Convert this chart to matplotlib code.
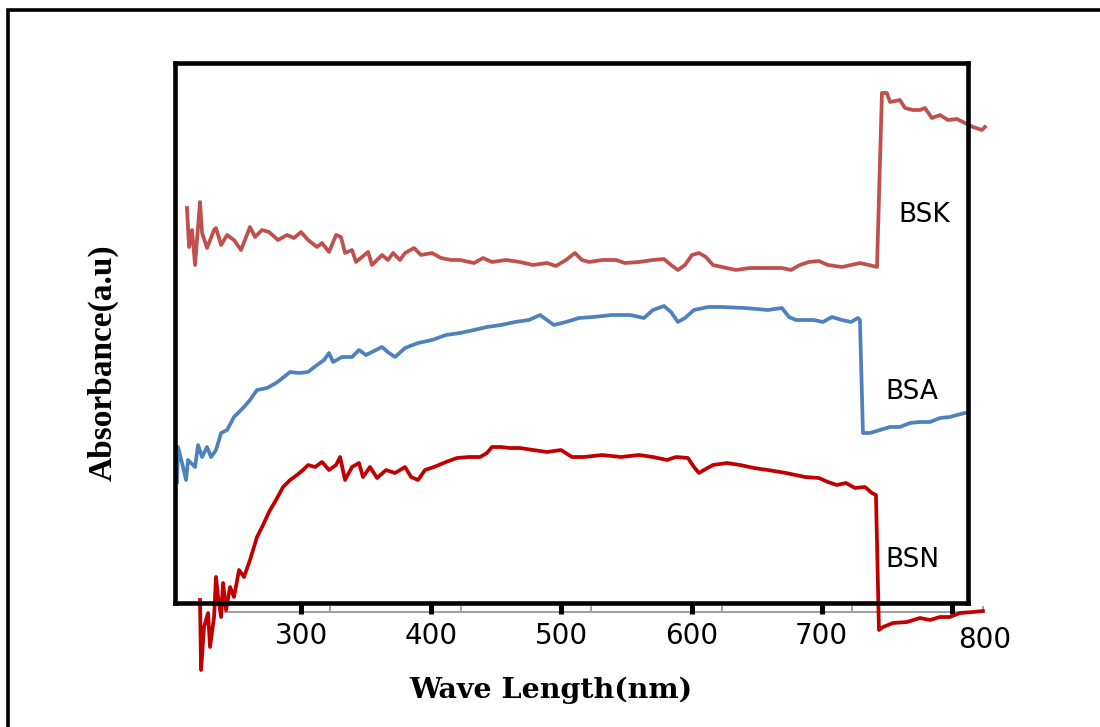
import matplotlib
matplotlib.use("Agg")
import matplotlib.pyplot as plt
from matplotlib.patches import Rectangle

# ---------------- data ----------------
bsk_wl = [212.4, 214.0, 216.3, 218.6, 222.4, 224.0, 227.8, 233.2, 234.7, 238.6,
          243.2, 248.5, 253.9, 257.8, 260.8, 264.7, 270.0, 275.4, 282.3, 289.2,
          294.6, 300.0, 305.4, 312.3, 316.1, 321.5, 326.9, 330.7, 333.8, 339.2,
          342.2, 351.5, 354.5, 362.2, 366.8, 370.7, 376.0, 379.9, 386.8, 392.2,
          400.6, 407.5, 415.2, 422.1, 432.9, 439.8, 446.7, 457.4, 468.2, 478.2,
          488.9, 495.8, 503.5, 510.4, 515.8, 521.2, 531.2, 541.9, 548.8, 559.6,
          570.3, 578.8, 584.2, 589.5, 594.9, 600.3, 605.7, 611.0, 616.4, 623.3,
          634.1, 644.8, 658.7, 669.4, 676.3, 683.2, 690.1, 697.8, 704.7, 715.5,
          722.4, 729.3, 736.2, 742.4, 746.2, 750.0, 752.4, 760.0, 763.9, 770.0,
          775.4, 779.2, 784.6, 790.8, 796.9, 803.8, 810.0, 816.1, 823.0, 825.3]
bsk_abs = [3.95, 3.56, 3.73, 3.38, 4.01, 3.70, 3.55, 3.73, 3.75, 3.58,
           3.68, 3.63, 3.53, 3.66, 3.76, 3.66, 3.73, 3.71, 3.63, 3.68,
           3.65, 3.71, 3.63, 3.56, 3.60, 3.51, 3.68, 3.66, 3.50, 3.53,
           3.41, 3.51, 3.38, 3.48, 3.43, 3.50, 3.43, 3.50, 3.55, 3.48,
           3.50, 3.45, 3.43, 3.43, 3.40, 3.45, 3.41, 3.43, 3.41, 3.38,
           3.40, 3.37, 3.43, 3.50, 3.43, 3.41, 3.43, 3.43, 3.40, 3.41,
           3.43, 3.44, 3.38, 3.33, 3.38, 3.48, 3.50, 3.46, 3.38, 3.36,
           3.33, 3.35, 3.35, 3.35, 3.33, 3.38, 3.41, 3.42, 3.38, 3.36,
           3.38, 3.40, 3.38, 3.36, 5.10, 5.10, 5.01, 5.03, 4.95, 4.93,
           4.93, 4.95, 4.85, 4.88, 4.83, 4.84, 4.80, 4.76, 4.73, 4.76]

bsa_wl = [204.8, 205.5, 208.6, 211.7, 213.2, 218.6, 220.9, 224.0, 227.8, 230.9,
          234.7, 238.6, 243.2, 248.5, 256.2, 260.8, 266.2, 273.9, 280.8, 283.9,
          291.6, 298.5, 305.4, 312.3, 317.7, 321.5, 324.6, 331.5, 339.2, 344.5,
          349.9, 354.5, 362.2, 367.6, 372.2, 379.9, 389.9, 400.6, 411.4, 422.1,
          432.9, 442.8, 453.6, 464.4, 475.1, 483.6, 488.9, 494.3, 503.5, 513.5,
          524.3, 538.8, 552.7, 563.4, 570.3, 578.8, 584.2, 589.5, 594.9, 601.8,
          612.6, 623.3, 641.0, 658.7, 669.4, 674.8, 680.2, 694.0, 700.9, 707.8,
          715.5, 722.4, 727.8, 729.3, 731.6, 737.0, 744.7, 752.4, 760.0, 767.7,
          775.4, 783.1, 790.8, 798.4, 803.8, 810.0]
bsa_abs = [1.21, 1.56, 1.40, 1.23, 1.43, 1.36, 1.58, 1.46, 1.56, 1.46,
           1.53, 1.70, 1.73, 1.86, 1.96, 2.03, 2.13, 2.15, 2.20, 2.23,
           2.31, 2.30, 2.31, 2.38, 2.43, 2.50, 2.41, 2.46, 2.46, 2.53,
           2.48, 2.51, 2.56, 2.50, 2.46, 2.55, 2.60, 2.63, 2.68, 2.70,
           2.73, 2.76, 2.78, 2.81, 2.83, 2.88, 2.83, 2.78, 2.81, 2.85,
           2.86, 2.88, 2.88, 2.85, 2.93, 2.97, 2.91, 2.81, 2.85, 2.93,
           2.96, 2.96, 2.95, 2.93, 2.95, 2.86, 2.83, 2.83, 2.81, 2.86,
           2.83, 2.81, 2.85, 2.83, 1.70, 1.70, 1.73, 1.76, 1.76, 1.80,
           1.81, 1.81, 1.85, 1.86, 1.88, 1.90]

bsn_wl = [222.4, 223.2, 225.5, 228.6, 230.1, 233.2, 234.7, 236.3, 238.6, 240.1,
          242.4, 245.5, 248.5, 252.4, 256.2, 260.8, 266.2, 271.6, 275.4, 280.8,
          286.2, 291.6, 296.9, 301.5, 305.4, 310.8, 316.1, 321.5, 326.9, 330.0,
          333.8, 339.2, 344.5, 347.6, 353.0, 358.4, 365.3, 372.2, 379.9, 384.5,
          389.9, 395.2, 402.1, 411.4, 419.8, 429.0, 437.5, 442.8, 446.7, 453.6,
          460.5, 468.2, 478.2, 488.9, 499.7, 508.1, 517.3, 531.2, 545.8, 559.6,
          570.3, 581.1, 588.0, 597.2, 601.8, 605.7, 609.5, 616.4, 627.2, 637.2,
          647.9, 658.7, 672.5, 687.1, 697.8, 704.7, 711.6, 718.6, 725.5, 733.2,
          738.5, 741.6, 743.9, 747.0, 754.7, 765.4, 775.4, 783.1, 790.8, 798.4,
          806.1, 816.1, 823.8]
bsn_abs = [0.03, -0.67, -0.24, -0.10, -0.44, -0.14, 0.26, 0.06, -0.14, 0.20,
           -0.07, 0.16, 0.06, 0.33, 0.26, 0.43, 0.66, 0.80, 0.91, 1.03,
           1.16, 1.23, 1.28, 1.33, 1.38, 1.36, 1.41, 1.33, 1.38, 1.46,
           1.23, 1.36, 1.40, 1.26, 1.36, 1.25, 1.33, 1.30, 1.36, 1.26,
           1.23, 1.33, 1.36, 1.41, 1.45, 1.46, 1.46, 1.50, 1.56, 1.56,
           1.55, 1.55, 1.53, 1.51, 1.53, 1.46, 1.46, 1.48, 1.46, 1.48,
           1.46, 1.43, 1.46, 1.45, 1.36, 1.30, 1.33, 1.38, 1.40, 1.38,
           1.35, 1.33, 1.30, 1.26, 1.25, 1.21, 1.18, 1.20, 1.15, 1.16,
           1.10, 1.08, -0.27, -0.24, -0.20, -0.19, -0.15, -0.17, -0.14, -0.14,
           -0.10, -0.09, -0.08]

x_ticks = [300, 400, 500, 600, 700, 800]
x_tick_labels = ["300", "400", "500", "600", "700", ""]
series_names = ["BSK", "BSA", "BSN"]

# ---------------- figure ----------------
W, H = 1100, 727
fig = plt.figure(figsize=(W / 100, H / 100), dpi=100)
fig.patch.set_facecolor("white")

def fx(px):
    return px / W

def fy(py):
    return (H - py) / H

# outer frame (left and top visible, rest beyond edges)
frame = Rectangle((fx(8), -0.1), 1.2, fy(10) + 0.1, transform=fig.transFigure,
                  fill=False, edgecolor="black", linewidth=2.6, clip_on=False)
fig.add_artist(frame)

# secondary grey axis (underlying original axis)
ax2 = fig.add_axes([fx(225), fy(612), fx(983) - fx(225), 0.0005])
ax2.set_xlim(219.6, 800)
ax2.set_ylim(0, 1)
for s in ["top", "left", "right"]:
    ax2.spines[s].set_visible(False)
ax2.spines["bottom"].set_color("#a0a0a0")
ax2.spines["bottom"].set_linewidth(1.5)
ax2.set_xticks(x_ticks)
ax2.set_xticklabels([])
ax2.set_yticks([])
ax2.tick_params(axis="x", direction="in", length=4.5, width=1.4, color="#a0a0a0")
ax2.patch.set_alpha(0)
ax2.set_zorder(1)

# main axes
ax = fig.add_axes([fx(175), fy(603), fx(968) - fx(175), fy(63) - fy(603)])
ax.set_zorder(2)
ax.patch.set_alpha(0)
ax.set_xlim(203.2, 812.3)
ax.set_ylim(0, 5.40)

colors = {"BSK": "#c0504d", "BSA": "#4f81bd", "BSN": "#c00000"}
ax.plot(bsk_wl, bsk_abs, color=colors["BSK"], lw=2.7, clip_on=False,
        solid_joinstyle="round", zorder=3)
ax.plot(bsa_wl, bsa_abs, color=colors["BSA"], lw=2.7, clip_on=False,
        solid_joinstyle="round", zorder=3)
ax.plot(bsn_wl, bsn_abs, color=colors["BSN"], lw=2.7, clip_on=False,
        solid_joinstyle="round", zorder=3)

for s in ax.spines.values():
    s.set_linewidth(3.3)
    s.set_color("black")
    s.set_zorder(4)

ax.set_yticks([])
ax.set_xticks(x_ticks)
ax.set_xticklabels(x_tick_labels, fontsize=20, family="DejaVu Sans")
ax.tick_params(axis="x", direction="out", length=8, width=3.6, color="black", pad=6)

# shifted 800 label
ax.text(825.3, -0.37, "800", fontsize=20, family="DejaVu Sans",
        ha="center", va="center", clip_on=False)

# series labels
ax.text(778.5, 3.88, series_names[0], fontsize=19, family="DejaVu Sans",
        ha="center", va="center")
ax.text(769.2, 2.11, series_names[1], fontsize=19, family="DejaVu Sans",
        ha="center", va="center")
ax.text(770.0, 0.43, series_names[2], fontsize=19, family="DejaVu Sans",
        ha="center", va="center")

# axis titles
fig.text(fx(103), fy(363), "Absorbance(a.u)", rotation=90, fontsize=24,
         family="Liberation Serif", fontweight="bold", ha="center", va="center")
fig.text(fx(551), fy(690), "Wave Length(nm)", fontsize=20.5,
         family="DejaVu Serif", fontweight="bold", ha="center", va="center")

fig.savefig("out.png", dpi=100, facecolor="white")
